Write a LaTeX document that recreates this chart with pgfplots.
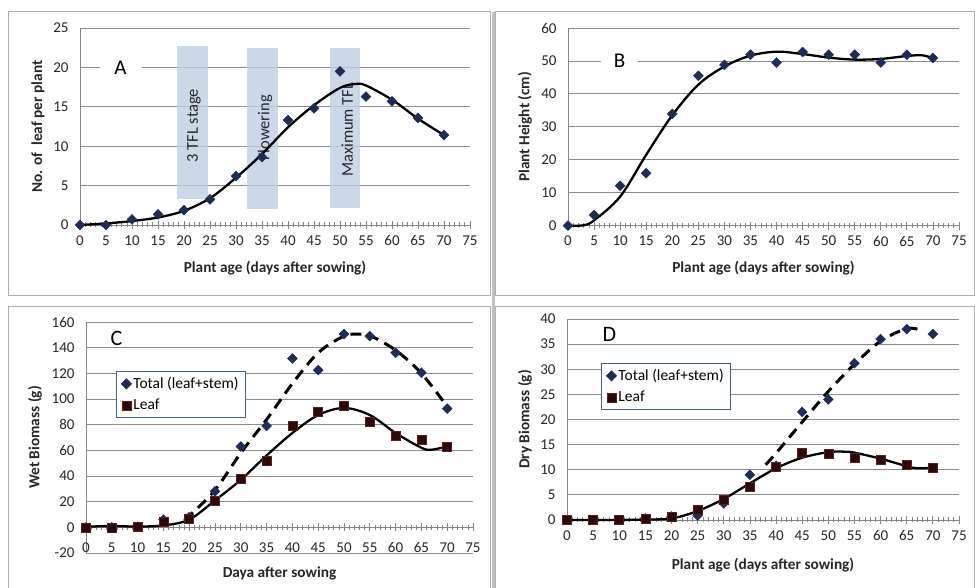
\documentclass[border=0pt]{standalone}
\usepackage{pgfplots}
\pgfplotsset{compat=1.18}
\usepackage{fontspec}
\setmainfont{Carlito}
\definecolor{navy}{RGB}{31,45,85}
\definecolor{sqfill}{RGB}{40,10,10}
\definecolor{sqdraw}{RGB}{95,30,30}
\definecolor{gridc}{RGB}{140,140,140}
\definecolor{axc}{RGB}{134,134,134}
\definecolor{bandc}{RGB}{190,206,228}
\definecolor{legc}{RGB}{70,95,140}
\definecolor{frame}{RGB}{175,175,175}
\pgfplotsset{
  panel/.style={
    scale only axis, clip=false,
    axis y line*=left,
    xmin=0, xmax=75, xtick={0,5,...,75}, minor x tick num=4,
    tick align=center, hide obscured x ticks=false, hide obscured y ticks=false,
    ymajorgrids, grid style={gridc, line width=0.8pt},
    axis line style={axc, line width=0.8pt},
    major x tick style={axc, line width=0.8pt},
    minor x tick style={axc, line width=0.6pt},
    major tick length=8pt, minor tick length=5pt,
    ytick style={draw=none},
    tick label style={font=\fontsize{15}{15}\selectfont, text=black!85},
    /pgf/number format/assume math mode=true,
    label style={font=\bfseries\fontsize{15.3}{17}\selectfont, text=black!85},
    yticklabel style={xshift=-4pt},
    xticklabel style={yshift=-3pt},
  },
  dia/.style={only marks, mark=square*, mark size=3.5pt, mark options={rotate=45, fill=navy, draw=navy}},
  sq/.style={only marks, mark=square*, mark size=4.5pt, mark options={fill=sqfill, draw=sqdraw, line width=0.6pt}},
  fit/.style={black, line width=2.3pt, smooth, tension=0.55, no marks},
  dfit/.style={black, line width=3pt, smooth, tension=0.55, no marks, dash pattern=on 11pt off 7pt},
  leg/.style={legend style={at={(axis description cs:#1)}, anchor=north west,
    draw=legc, line width=0.9pt, fill=white, font=\fontsize{15.5}{16}\selectfont,
    inner xsep=5pt, inner ysep=4pt, row sep=5pt,
    nodes={inner xsep=2pt}},
    legend cell align=left,
    legend image code/.code={\draw[##1] plot coordinates {(0.18cm,0cm)};}},
}
\begin{document}
\begin{tikzpicture}[x=1pt,y=1pt]
\useasboundingbox (0,0) rectangle (975,588);
% panel frames
\draw[frame, line width=1pt] (8,292) rectangle (490,576);
\draw[frame, line width=1pt] (495,292) rectangle (974.5,576);
\draw[frame, line width=1pt] (8,-5) rectangle (490,281);
\draw[frame, line width=1pt] (495,-5) rectangle (974.5,281);
\draw[frame!80, line width=2.5pt] (493.5,-5) -- (493.5,576);

% ---------------- A ----------------
\begin{axis}[panel, axis x line*=bottom, at={(80pt,363pt)}, anchor=south west,
  width=390pt, height=197pt, ymin=0, ymax=25, ytick={0,5,...,25},
  xlabel={Plant age (days after sowing)}, ylabel={No. of\ \ leaf per plant},
  xlabel style={at={(axis description cs:0.5,-0.218)}, anchor=center},
  ylabel style={at={(axis description cs:-0.108,0.5)}, anchor=center}]
\addplot[draw=none, fill=bandc, fill opacity=0.8] coordinates {(18.6,3.25) (24.7,3.25) (24.7,22.7) (18.6,22.7)} -- cycle;
\addplot[draw=none, fill=bandc, fill opacity=0.8] coordinates {(32.2,2.0) (38.1,2.0) (38.1,22.5) (32.2,22.5)} -- cycle;
\addplot[draw=none, fill=bandc, fill opacity=0.8] coordinates {(48.1,2.1) (53.8,2.1) (53.8,22.5) (48.1,22.5)} -- cycle;
\node[rotate=90, font=\fontsize{16.5}{16}\selectfont, text=black!85] at (axis cs:21.9,12.6) {3 TFL stage};
\node[rotate=90, font=\fontsize{16.5}{16}\selectfont, text=black!85] at (axis cs:35.6,12.3) {Flowering};
\node[rotate=90, font=\fontsize{16.5}{16}\selectfont, text=black!85] at (axis cs:51.4,12.1) {Maximum TFL};
\addplot[fit] coordinates {(0,0) (5,0.2) (10,0.5) (15,0.95) (20,1.8) (25,3.4) (30,6.0) (35,9.0) (40,12.4) (45,15.2) (50,17.4) (53,17.9) (55,17.7) (60,15.9) (65,13.5) (70,11.4)};
\addplot[dia] coordinates {(0,0) (5,0) (10,0.7) (15,1.35) (20,1.9) (25,3.25) (30,6.2) (35,8.6) (40,13.3) (45,14.8) (50,19.5) (55,16.3) (60,15.7) (65,13.6) (70,11.4)};
\node[fill=white, minimum width=42pt, inner ysep=1pt, font=\fontsize{21}{21}\selectfont] at (axis cs:7.8,20) {A};
\end{axis}

% ---------------- B ----------------
\begin{axis}[panel, axis x line*=bottom, at={(568pt,362.4pt)}, anchor=south west,
  width=391pt, height=197.6pt, ymin=0, ymax=60, ytick={0,10,...,60},
  xlabel={Plant age (days after sowing)}, ylabel={Plant Height (cm)},
  xlabel style={at={(axis description cs:0.5,-0.217)}, anchor=center},
  ylabel style={at={(axis description cs:-0.11,0.5)}, anchor=center}]
\addplot[fit] coordinates {(0,0) (3,0.1) (5,1.6) (10,8.8) (15,21.5) (20,33.5) (25,42.8) (30,48.3) (35,51.6) (40,52.8) (45,52.1) (50,51) (55,50.4) (60,50.6) (65,51.5) (68,51.7) (70,50.8)};
\addplot[dia] coordinates {(0,0) (5,3.2) (10,12.1) (15,15.9) (20,33.9) (25,45.5) (30,48.8) (35,51.9) (40,49.5) (45,52.7) (50,51.9) (55,51.9) (60,49.5) (65,51.9) (70,50.9)};
\node[fill=white, minimum width=37pt, inner ysep=1pt, font=\fontsize{21}{21}\selectfont] at (axis cs:9.9,50) {B};
\end{axis}

% ---------------- C ----------------
\begin{axis}[panel, axis x line*=middle, at={(86pt,35pt)}, anchor=south west,
  width=387pt, height=231pt, ymin=-20, ymax=160, ytick={-20,0,...,160},
  xlabel={Daya after sowing}, ylabel={Wet Biomass (g)},
  xticklabel style={yshift=-5pt},
  xlabel style={at={(axis description cs:0.5,-0.087)}, anchor=center},
  ylabel style={at={(axis description cs:-0.132,0.5)}, anchor=center},
  leg={0.0775,0.788}]
\addplot[fit, forget plot] coordinates {(0,0.5) (5,1) (10,0.6) (15,1.5) (20,6) (25,21) (30,37) (35,56) (40,73.5) (45,87.5) (50,93) (55,87.5) (60,73.5) (65,62) (67,60.5) (70,63)};
\addplot[dfit, forget plot] coordinates {(19,7) (20,9) (25,29) (30,58) (35,84) (40,112) (45,136) (50,149) (53,150.5) (55,149.5) (60,138) (65,120) (70,94)};
\addplot[dia] coordinates {(0,0) (5,0) (10,0.5) (15,6) (20,8) (25,28) (30,63) (35,79) (40,131.5) (45,122.5) (50,150.5) (55,149) (60,136) (65,120.5) (70,92.5)};
\addlegendentry{Total (leaf+stem)}
\addplot[sq] coordinates {(0,0) (5,0) (10,0.5) (15,4) (20,7) (25,21) (30,38) (35,52) (40,79) (45,90) (50,95) (55,82) (60,71) (65,68) (70,63)};
\addlegendentry{Leaf}
\node[font=\fontsize{22}{22}\selectfont] at (axis cs:5.9,147.5) {C};
\end{axis}

% ---------------- D ----------------
\begin{axis}[panel, axis x line*=bottom, at={(567pt,68pt)}, anchor=south west,
  width=392pt, height=201pt, ymin=0, ymax=40, ytick={0,5,...,40},
  xlabel={Plant age (days after sowing)}, ylabel={Dry Biomass (g)},
  xlabel style={at={(axis description cs:0.5,-0.224)}, anchor=center},
  ylabel style={at={(axis description cs:-0.107,0.5)}, anchor=center},
  leg={0.087,0.781}]
\addplot[fit, forget plot] coordinates {(0,0) (5,0) (10,0) (15,0.1) (20,0.3) (25,1.8) (30,4.2) (35,7.3) (40,10.3) (45,12.4) (50,13.5) (53,13.6) (55,13.4) (60,12.2) (65,10.7) (67,10.3) (70,10.4)};
\addplot[dfit, forget plot] coordinates {(38,11) (40,13.3) (45,19.5) (50,25.6) (55,31) (60,35.6) (65,38.1) (67.5,37.8)};
\addplot[dia] coordinates {(0,0) (5,0) (10,0) (15,0.3) (20,0.7) (25,0.9) (30,3.3) (35,9) (40,10.8) (45,21.5) (50,24) (55,31.2) (60,36) (65,38) (70,37)};
\addlegendentry{Total (leaf+stem)}
\addplot[sq] coordinates {(0,0) (5,0) (10,0) (15,0.3) (20,0.7) (25,2) (30,4) (35,6.6) (40,10.6) (45,13.3) (50,13.2) (55,12.4) (60,12) (65,11) (70,10.4)};
\addlegendentry{Leaf}
\node[font=\fontsize{22}{22}\selectfont] at (axis cs:8.1,36.9) {D};
\end{axis}
\end{tikzpicture}
\end{document}
